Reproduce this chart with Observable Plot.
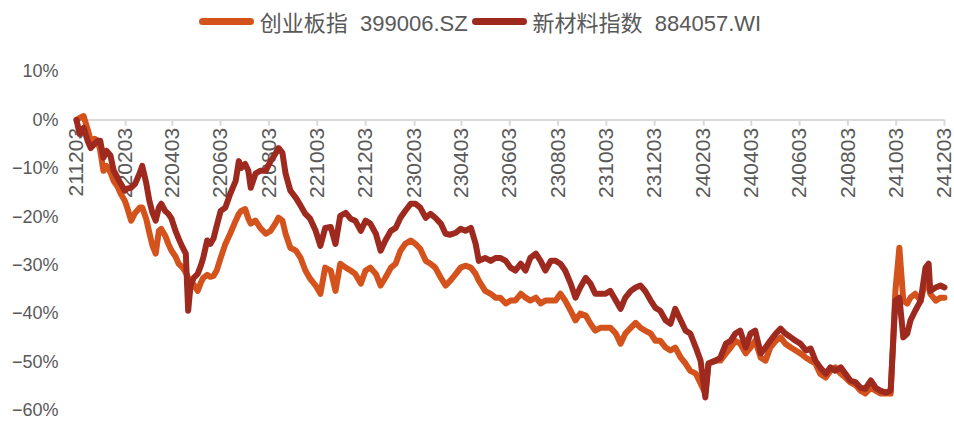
<!DOCTYPE html>
<html>
<head>
<meta charset="utf-8">
<script src="https://cdn.jsdelivr.net/npm/d3@7"></script>
<script src="https://cdn.jsdelivr.net/npm/@observablehq/plot@0.6"></script>
<style>
  html, body { margin: 0; padding: 0; background: #fff; }
  #legend { height: 42px; display: flex; align-items: center; justify-content: center;
    font-family: "Liberation Sans", "Noto Sans CJK SC", sans-serif; font-size: 22px; color: #595959; padding-left: 10px; word-spacing: 6px; }
  .item { display: flex; align-items: center; }
  .sw { width: 55px; height: 7px; border-radius: 3.5px; margin-right: 6px; }
  .lab { margin-right: 4px; }
</style>
</head>
<body>
<div id="legend"></div>
<div id="chart"></div>
<script>
const seriesNames = ["创业板指 399006.SZ", "新材料指数 884057.WI"];
const seriesColors = ["#D4531C", "#9E2A1F"];

const dates = [
"2021-12-03","2021-12-07","2021-12-12","2021-12-17","2021-12-21","2021-12-26","2021-12-30","2022-01-02","2022-01-06","2022-01-10",
"2022-01-15","2022-01-19","2022-01-24","2022-01-28","2022-02-02","2022-02-05","2022-02-10","2022-02-15","2022-02-21","2022-02-24",
"2022-03-01","2022-03-05","2022-03-09","2022-03-13","2022-03-17","2022-03-20","2022-03-25","2022-03-29","2022-04-02","2022-04-07",
"2022-04-11","2022-04-15","2022-04-20","2022-04-23","2022-04-26","2022-04-30","2022-05-05","2022-05-09","2022-05-12","2022-05-17",
"2022-05-21","2022-05-25","2022-05-29","2022-06-03","2022-06-09","2022-06-15","2022-06-22","2022-06-26","2022-06-29","2022-07-04",
"2022-07-08","2022-07-11","2022-07-17","2022-07-23","2022-07-30","2022-08-05","2022-08-11","2022-08-15","2022-08-20","2022-08-24",
"2022-08-30","2022-09-06","2022-09-12","2022-09-18","2022-09-24","2022-10-01","2022-10-07","2022-10-13","2022-10-20","2022-10-26",
"2022-11-01","2022-11-08","2022-11-14","2022-11-20","2022-11-27","2022-12-03","2022-12-09","2022-12-16","2022-12-22","2022-12-28",
"2023-01-04","2023-01-10","2023-01-16","2023-01-22","2023-01-29","2023-02-04","2023-02-10","2023-02-17","2023-02-23","2023-03-01",
"2023-03-08","2023-03-14","2023-03-20","2023-03-27","2023-04-02","2023-04-08","2023-04-15","2023-04-21","2023-04-25","2023-05-03",
"2023-05-10","2023-05-16","2023-05-22","2023-05-29","2023-06-04","2023-06-10","2023-06-17","2023-06-23","2023-06-29","2023-07-06",
"2023-07-12","2023-07-18","2023-07-25","2023-07-31","2023-08-06","2023-08-12","2023-08-19","2023-08-25","2023-08-31","2023-09-07",
"2023-09-13","2023-09-19","2023-09-26","2023-10-02","2023-10-08","2023-10-15","2023-10-21","2023-10-27","2023-11-03","2023-11-09",
"2023-11-15","2023-11-21","2023-11-28","2023-12-04","2023-12-10","2023-12-17","2023-12-23","2023-12-29","2024-01-05","2024-01-11",
"2024-01-17","2024-01-24","2024-01-30","2024-02-05","2024-02-09","2024-02-18","2024-02-24","2024-03-02","2024-03-08","2024-03-14",
"2024-03-20","2024-03-27","2024-04-02","2024-04-08","2024-04-15","2024-04-21","2024-04-27","2024-05-04","2024-05-10","2024-05-16",
"2024-05-23","2024-05-29","2024-06-04","2024-06-11","2024-06-17","2024-06-23","2024-06-29","2024-07-06","2024-07-12","2024-07-18",
"2024-07-25","2024-07-31","2024-08-06","2024-08-13","2024-08-19","2024-08-25","2024-09-01","2024-09-07","2024-09-13","2024-09-20",
"2024-09-26","2024-10-02","2024-10-07","2024-10-12","2024-10-17","2024-10-21","2024-10-27","2024-11-03","2024-11-09","2024-11-13",
"2024-11-15","2024-11-22","2024-11-28","2024-12-03"
];

// 创业板指 399006.SZ, cumulative change (%)
const chinext = [
0,0.4,0.8,-1.9,-4.3,-3.9,-4.3,-6.4,-10.5,-9.5,
-10.9,-12.6,-13.8,-15.3,-16.7,-18.1,-20.8,-19.2,-18.1,-18.1,
-20.4,-23.3,-26.0,-27.6,-22.9,-22.5,-23.9,-25.6,-27.0,-28.2,
-29.7,-30.3,-31.5,-32.6,-33.8,-34.0,-35.3,-33.6,-32.6,-32.0,
-32.4,-32.2,-31.1,-28.5,-25.6,-23.5,-20.8,-19.4,-18.8,-18.4,
-20.4,-21.4,-20.8,-22.3,-23.5,-22.9,-21.4,-20.2,-20.8,-23.5,
-26.4,-27.0,-28.5,-31.1,-32.8,-34.2,-35.9,-30.5,-31.1,-35.3,
-29.7,-30.5,-31.1,-31.8,-33.8,-31.1,-30.5,-31.8,-34.2,-32.6,
-30.5,-29.7,-27.0,-25.6,-24.9,-25.6,-26.6,-29.1,-29.7,-30.5,
-32.6,-34.2,-33.2,-31.8,-30.5,-30.1,-30.5,-31.8,-33.2,-35.3,
-35.9,-36.7,-36.7,-37.9,-37.3,-37.3,-35.9,-36.7,-37.3,-36.7,
-37.9,-37.3,-37.3,-37.3,-35.9,-37.3,-39.4,-41.4,-40.0,-40.4,
-42.1,-43.5,-42.9,-42.9,-42.9,-44.1,-46.2,-44.1,-42.9,-41.9,
-42.9,-43.5,-44.1,-45.6,-45.6,-47.0,-47.6,-47.0,-49.1,-50.3,
-51.8,-52.4,-54.4,-56.5,-50.3,-49.7,-49.7,-48.2,-47.0,-45.6,
-46.2,-48.2,-47.0,-45.6,-49.1,-49.7,-47.0,-45.6,-44.9,-46.2,
-47.0,-47.6,-48.2,-49.1,-49.7,-50.3,-52.4,-53.2,-51.8,-51.1,
-52.4,-53.2,-54.2,-54.8,-55.9,-56.5,-55.3,-55.9,-56.5,-56.5,
-56.5,-35.3,-26.4,-37.3,-37.9,-36.7,-35.9,-37.3,-33.2,-34.2,
-35.9,-37.3,-36.7,-36.7
];

// 新材料指数 884057.WI, cumulative change (%)
const newMaterials = [
0,-2.9,-1.6,-4.3,-5.8,-4.9,-4.3,-4.3,-7.8,-6.4,
-7.4,-10.5,-12.0,-13.2,-14.6,-14.2,-14.0,-13.2,-10.9,-9.5,
-13.0,-16.7,-19.2,-20.8,-18.1,-17.3,-18.8,-19.4,-20.4,-22.9,
-24.5,-26.0,-27.6,-39.4,-34.2,-32.6,-31.8,-30.1,-28.5,-24.9,
-25.6,-24.5,-21.9,-18.8,-18.1,-15.3,-12.6,-8.5,-9.9,-9.1,
-10.5,-14.0,-11.1,-10.5,-10.5,-8.5,-7.0,-5.8,-6.8,-11.1,
-14.6,-16.1,-17.7,-19.4,-20.4,-22.9,-26.0,-22.3,-22.1,-25.6,
-19.8,-19.2,-20.4,-20.8,-22.9,-20.8,-21.4,-23.5,-27.0,-24.9,
-22.9,-22.3,-20.2,-18.8,-17.3,-17.3,-18.1,-20.2,-19.4,-20.2,
-21.4,-23.5,-23.7,-23.3,-22.5,-22.9,-22.3,-25.6,-29.1,-28.5,
-29.1,-28.5,-28.5,-29.1,-30.5,-31.1,-29.7,-31.1,-28.5,-27.6,
-29.1,-31.1,-29.1,-29.1,-29.7,-31.1,-33.8,-36.7,-34.6,-32.6,
-33.8,-35.9,-35.9,-35.9,-35.3,-37.3,-39.0,-36.7,-35.3,-34.6,
-34.2,-35.3,-37.3,-38.8,-39.4,-41.4,-42.1,-39.0,-41.4,-43.5,
-44.1,-47.0,-49.7,-57.3,-50.3,-49.7,-49.1,-46.2,-45.6,-44.1,
-43.5,-47.0,-44.1,-43.5,-48.2,-47.0,-45.6,-44.1,-43.1,-44.1,
-44.9,-45.6,-46.2,-47.6,-47.2,-49.7,-51.1,-52.4,-51.1,-51.8,
-51.1,-52.4,-53.8,-54.2,-55.3,-55.5,-53.8,-55.3,-55.9,-56.3,
-55.9,-37.3,-36.7,-44.9,-44.1,-41.4,-39.4,-37.3,-30.5,-29.7,
-35.3,-34.6,-34.2,-34.6
];

const xTickLabels = ["211203","220203","220403","220603","220803","221003","221203","230203","230403","230603","230803","231003","231203","240203","240403","240603","240803","241003","241203"];
const yTicks = [10, 0, -10, -20, -30, -40, -50, -60];

// legend
const legend = document.getElementById("legend");
seriesNames.forEach((n, i) => {
  const it = document.createElement("div"); it.className = "item";
  const sw = document.createElement("div"); sw.className = "sw"; sw.style.background = seriesColors[i];
  const lb = document.createElement("span"); lb.className = "lab"; lb.textContent = n;
  it.appendChild(sw); it.appendChild(lb); legend.appendChild(it);
});

const parseDate = d3.utcParse("%Y-%m-%d");
const parseTick = d3.utcParse("%y%m%d");
const rowsA = dates.map((d, i) => ({date: parseDate(d), value: chinext[i]}));
const rowsB = dates.map((d, i) => ({date: parseDate(d), value: newMaterials[i]}));
const fmt = d => (d < 0 ? "\u2212" : "") + Math.abs(d) + "%";

const chart = Plot.plot({
  width: 954,
  height: 379,
  marginLeft: 76,
  marginRight: 10,
  marginTop: 29,
  marginBottom: 11,
  style: {fontFamily: "'Liberation Sans', Arial, sans-serif", color: "#595959", background: "#fff"},
  x: {type: "utc", domain: [parseTick(xTickLabels[0]), parseTick(xTickLabels[xTickLabels.length - 1])], axis: null},
  y: {domain: [-60, 10], axis: null},
  marks: [
    Plot.axisY({ticks: yTicks, tickSize: 0, tickPadding: 18, fontSize: 18, tickFormat: fmt, label: null, fill: "#595959"}),
    Plot.ruleY([0], {stroke: "#d9d9d9", strokeWidth: 2}),
    Plot.ruleX(xTickLabels, {x: d => parseTick(d), y1: 0, y2: -1.3, stroke: "#d9d9d9", strokeWidth: 2}),
    Plot.text(xTickLabels, {x: d => parseTick(d), y: 0, text: d => d, rotate: -90, textAnchor: "end", dy: 8, fontSize: 21, fill: "#595959"}),
    Plot.line(rowsA, {x: "date", y: "value", stroke: seriesColors[0], strokeWidth: 6, strokeLinejoin: "round", strokeLinecap: "round"}),
    Plot.line(rowsB, {x: "date", y: "value", stroke: seriesColors[1], strokeWidth: 6, strokeLinejoin: "round", strokeLinecap: "round"})
  ]
});
document.getElementById("chart").appendChild(chart);
</script>
</body>
</html>
